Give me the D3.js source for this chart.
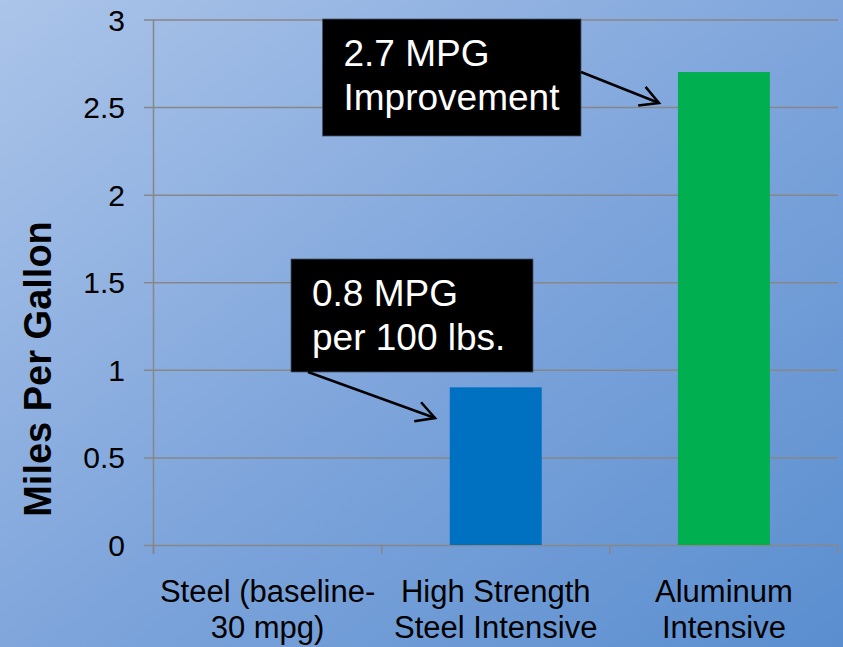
<!DOCTYPE html>
<html>
<head>
<meta charset="utf-8">
<script src="https://cdn.jsdelivr.net/npm/d3@7/dist/d3.min.js"></script>
<style>
  html, body { margin: 0; padding: 0; overflow: hidden; }
  svg { display: block; font-family: "Liberation Sans", Arial, sans-serif; }
</style>
</head>
<body>
<svg id="chart" width="843" height="647"></svg>
<script>
// ---- data ----
const categories = [
  ["Steel (baseline-", "30 mpg)"],
  ["High Strength", "Steel Intensive"],
  ["Aluminum", "Intensive"]
];
const values = [0, 0.9, 2.7];
const barColors = ["#0070c0", "#0070c0", "#00b050"];
const yTicks = [0, 0.5, 1, 1.5, 2, 2.5, 3];
const yTickLabels = ["0", "0.5", "1", "1.5", "2", "2.5", "3"];
const yTitle = "Miles Per Gallon";
const annotations = [
  ["0.8 MPG", "per 100 lbs."],
  ["2.7 MPG", "Improvement"]
];

(function () {
// ---- layout ----
const W = 843, H = 647;
const pLeft = 153.5, pRight = 838, pTop = 19.5, pBottom = 545;
const svg = d3.select("#chart");

const defs = svg.append("defs");
const grad = defs.append("linearGradient").attr("id", "bg")
  .attr("x1", 0).attr("y1", 0).attr("x2", 1).attr("y2", 1);
grad.append("stop").attr("offset", "0%").attr("stop-color", "#abc4e9");
grad.append("stop").attr("offset", "50%").attr("stop-color", "#80a6dc");
grad.append("stop").attr("offset", "100%").attr("stop-color", "#5a8ecf");
svg.append("rect").attr("width", W).attr("height", H).attr("fill", "url(#bg)");

const keys = categories.map(c => c.join(" "));
const x = d3.scaleBand().domain(keys).range([pLeft, pRight]).padding(0);
const y = d3.scaleLinear().domain([0, 3]).range([pBottom, pTop]);

const gridColor = "#878787";

// gridlines + y ticks
const yAxis = d3.axisLeft(y).tickValues(yTicks)
  .tickFormat((d, i) => yTickLabels[i])
  .tickSize(-(pRight - pLeft)).tickSizeOuter(0).tickPadding(0);
const gy = svg.append("g").attr("transform", `translate(${pLeft},0)`).call(yAxis);
gy.select(".domain").remove();
gy.selectAll(".tick line").attr("stroke", gridColor).attr("stroke-width", 1.5)
  .attr("x1", -9.5);
gy.selectAll(".tick text").attr("x", -28.5).attr("fill", "#000")
  .style("font-size", "30px").attr("dy", "0.35em").attr("text-anchor", "end");

// y axis line
svg.append("line").attr("x1", pLeft).attr("x2", pLeft)
  .attr("y1", pTop).attr("y2", pBottom + 9)
  .attr("stroke", gridColor).attr("stroke-width", 1.5);

// category boundary ticks
const bounds = keys.map(k => x(k)).concat([x(keys[keys.length - 1]) + x.bandwidth()]);
svg.selectAll(".ctick").data(bounds).enter().append("line")
  .attr("x1", d => d).attr("x2", d => d)
  .attr("y1", pBottom).attr("y2", pBottom + 9)
  .attr("stroke", gridColor).attr("stroke-width", 1.5);

// bars
const bw = x.bandwidth() * 0.403;
svg.selectAll(".bar").data(values).enter().append("rect")
  .attr("x", (d, i) => x(keys[i]) + (x.bandwidth() - bw) / 2)
  .attr("width", bw)
  .attr("y", d => y(d))
  .attr("height", d => y(0) - y(d))
  .attr("fill", (d, i) => barColors[i]);

// category labels
const cl = svg.selectAll(".cat").data(categories).enter().append("text")
  .attr("text-anchor", "middle").style("font-size", "31px").attr("fill", "#000");
cl.each(function (d, i) {
  const t = d3.select(this);
  d.forEach((line, j) => {
    t.append("tspan").attr("x", x(keys[i]) + x.bandwidth() / 2)
      .attr("y", 602 + j * 36).text(line);
  });
});

// y title
svg.append("text").attr("transform", "translate(51,369) rotate(-90)")
  .attr("text-anchor", "middle").style("font-size", "38px").style("font-weight", "bold")
  .attr("fill", "#000").text(yTitle);

// annotations
const boxes = [
  { x0: 291, y0: 259, x1: 533, y1: 372, from: [308, 372], to: [435, 418] },
  { x0: 322.5, y0: 19, x1: 581, y1: 136, from: [581, 72], to: [659, 103] }
];
boxes.forEach((b, i) => {
  svg.append("rect").attr("x", b.x0).attr("y", b.y0)
    .attr("width", b.x1 - b.x0).attr("height", b.y1 - b.y0).attr("fill", "#000")
    .attr("stroke", "#44546a").attr("stroke-width", 0.8);
  const t = svg.append("text").attr("fill", "#fff").style("font-size", "37px");
  annotations[i].forEach((line, j) => {
    t.append("tspan").attr("x", b.x0 + 21).attr("y", b.y0 + 47 + j * 44).text(line);
  });
  const [fx, fy] = b.from, [tx, ty] = b.to;
  const ang = Math.atan2(fy - ty, fx - tx);
  const L = 21, sp = Math.PI / 6.3;
  const p1 = [tx + L * Math.cos(ang + sp), ty + L * Math.sin(ang + sp)];
  const p2 = [tx + L * Math.cos(ang - sp), ty + L * Math.sin(ang - sp)];
  svg.append("line").attr("x1", fx).attr("y1", fy).attr("x2", tx).attr("y2", ty)
    .attr("stroke", "#000").attr("stroke-width", 2.5);
  svg.append("path").attr("d", `M${p1[0]},${p1[1]}L${tx},${ty}L${p2[0]},${p2[1]}`)
    .attr("fill", "none").attr("stroke", "#000").attr("stroke-width", 2.5)
    .attr("stroke-linejoin", "miter");
});
})();
</script>
</body>
</html>
